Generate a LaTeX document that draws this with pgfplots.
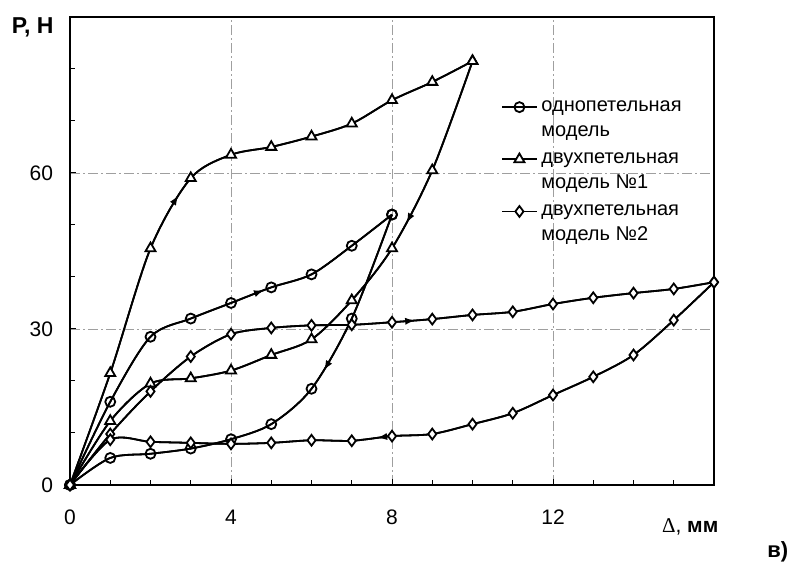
\documentclass[border=0pt]{standalone}
\usepackage{pgfplots}
\pgfplotsset{compat=1.18}
\usepackage{fontspec}
\setmainfont{Liberation Sans}
\newfontfamily\seriff{Liberation Serif}
\usetikzlibrary{decorations.markings,arrows.meta}
\tikzset{arr/.style={postaction={decorate},decoration={markings,mark=at position #1 with {\arrow{Latex[length=5pt,width=3.6pt]}}}}}
\begin{document}
\begin{tikzpicture}
\begin{axis}[
  scale only axis, width=322pt, height=234pt,
  xmin=0, xmax=16, ymin=0, ymax=90,
  xtick={0,4,8,12}, ytick={0,30,60},
  minor xtick={1,2,3,5,6,7,9,10,11,13,14,15},
  minor ytick={10,20,40,50,70,80},
  xtick pos=bottom, ytick pos=left,
  tick align=inside,
  grid=major,
  major grid style={gray!75, line width=0.4pt, dash pattern=on 5pt off 1.5pt on 1pt off 1.5pt},
  axis line style={line width=1.1pt},
  every tick/.style={black, line width=0.5pt},
  major tick length=3pt, minor tick length=2.5pt,
  tick label style={font=\fontsize{10.5}{12}\selectfont},
  /pgf/number format/assume math mode=true,
  xticklabel style={yshift=-9pt},
  yticklabel style={xshift=-5pt},
  clip=false,
  legend cell align=left,
  legend style={draw=none, fill=none, at={(rel axis cs:0.66,0.84)}, anchor=north west,
    font=\fontsize{10}{12.6}\selectfont, cells={align=left}, row sep=2.6pt},
  legend image post style={yshift=6.3pt},
  every axis plot/.append style={line width=0.9pt, black},
]
% arrow overlays (drawn first, under the marks)
\addplot[smooth, tension=0.5, no marks, arr=0.66, forget plot] coordinates {
 (0,0) (1,16) (2,28.5) (3,32) (4,35) (5,38) (6,40.5) (7,46) (8,52)};
\addplot[smooth, tension=0.5, no marks, arr=0.37, forget plot] coordinates {
 (8,52) (7,32) (6,18.5) (5,11.7) (4,8.8) (3,7) (2,6) (1,5.2) (0,0)};
\addplot[smooth, tension=0.5, no marks, arr=0.485, forget plot] coordinates {
 (0,0) (1,21.5) (2,45.5) (3,59) (4,63.5) (5,65) (6,67) (7,69.5) (8,74) (9,77.5) (10,81.5)};
\addplot[smooth, tension=0.5, no marks, arr=0.28, forget plot] coordinates {
 (10,81.5) (9,60.5) (8,45.5) (7,35.5) (6,28) (5,25) (4,22) (3,20.5) (2,19.5) (1,12.3) (0,0)};
\addplot[smooth, tension=0.5, no marks, arr=0.575, forget plot] coordinates {
 (0,0) (1,9.8) (2,18) (3,24.7) (4,29) (5,30.2) (6,30.7) (7,30.8) (8,31.3) (9,31.9) (10,32.7) (11,33.3) (12,34.8) (13,36) (14,36.9) (15,37.7) (16,39)};
\addplot[smooth, tension=0.5, no marks, arr=0.537, forget plot] coordinates {
 (16,39) (15,31.7) (14,25) (13,20.8) (12,17.3) (11,13.8) (10,11.7) (9,9.8) (8,9.4) (7,8.5) (6,8.6) (5,8.1) (4,7.9) (3,8.1) (2,8.3) (1,8.7) (0,0)};
% однопетельная модель
\addplot[smooth, tension=0.5, mark=o, mark size=2.5pt, mark options={fill=white, solid}] coordinates {
 (0,0) (1,16) (2,28.5) (3,32) (4,35) (5,38) (6,40.5) (7,46) (8,52)};
\addlegendentry{однопетельная\\модель}
\addplot[smooth, tension=0.5, mark=o, mark size=2.5pt, mark options={fill=white, solid}, forget plot] coordinates {
 (8,52) (7,32) (6,18.5) (5,11.7) (4,8.8) (3,7) (2,6) (1,5.2) (0,0)};
% двухпетельная модель 1
\addplot[smooth, tension=0.5, mark=triangle*, mark size=2.9pt, mark options={fill=white, solid}] coordinates {
 (0,0) (1,21.5) (2,45.5) (3,59) (4,63.5) (5,65) (6,67) (7,69.5) (8,74) (9,77.5) (10,81.5)};
\addlegendentry{двухпетельная\\модель №1}
\addplot[smooth, tension=0.5, mark=triangle*, mark size=2.9pt, mark options={fill=white, solid}, forget plot] coordinates {
 (10,81.5) (9,60.5) (8,45.5) (7,35.5) (6,28) (5,25) (4,22) (3,20.5) (2,19.5) (1,12.3) (0,0)};
% двухпетельная модель 2
\addplot[smooth, tension=0.5, mark=diamond*, mark size=2.7pt, mark options={fill=white, solid}] coordinates {
 (0,0) (1,9.8) (2,18) (3,24.7) (4,29) (5,30.2) (6,30.7) (7,30.8) (8,31.3) (9,31.9) (10,32.7) (11,33.3) (12,34.8) (13,36) (14,36.9) (15,37.7) (16,39)};
\addlegendentry{двухпетельная\\модель №2}
\addplot[smooth, tension=0.5, mark=diamond*, mark size=2.7pt, mark options={fill=white, solid}, forget plot] coordinates {
 (16,39) (15,31.7) (14,25) (13,20.8) (12,17.3) (11,13.8) (10,11.7) (9,9.8) (8,9.4) (7,8.5) (6,8.6) (5,8.1) (4,7.9) (3,8.1) (2,8.3) (1,8.7) (0,0)};
\node[font=\bfseries\fontsize{11.5}{12}\selectfont] at (rel axis cs:-0.058,0.977) {P, H};
\node[font=\fontsize{10.5}{12}\selectfont] at (rel axis cs:0.963,-0.0897) {{\seriff Δ}, \textbf{мм}};
\node[font=\bfseries\fontsize{11}{12}\selectfont] at (rel axis cs:1.099,-0.143) {в)};
\coordinate (bbSW) at (rel axis cs:-0.1087,-0.1645);
\coordinate (bbNE) at (rel axis cs:1.118,1.0363);
\end{axis}
\pgfresetboundingbox
\useasboundingbox (bbSW) rectangle (bbNE);
\end{tikzpicture}
\end{document}
